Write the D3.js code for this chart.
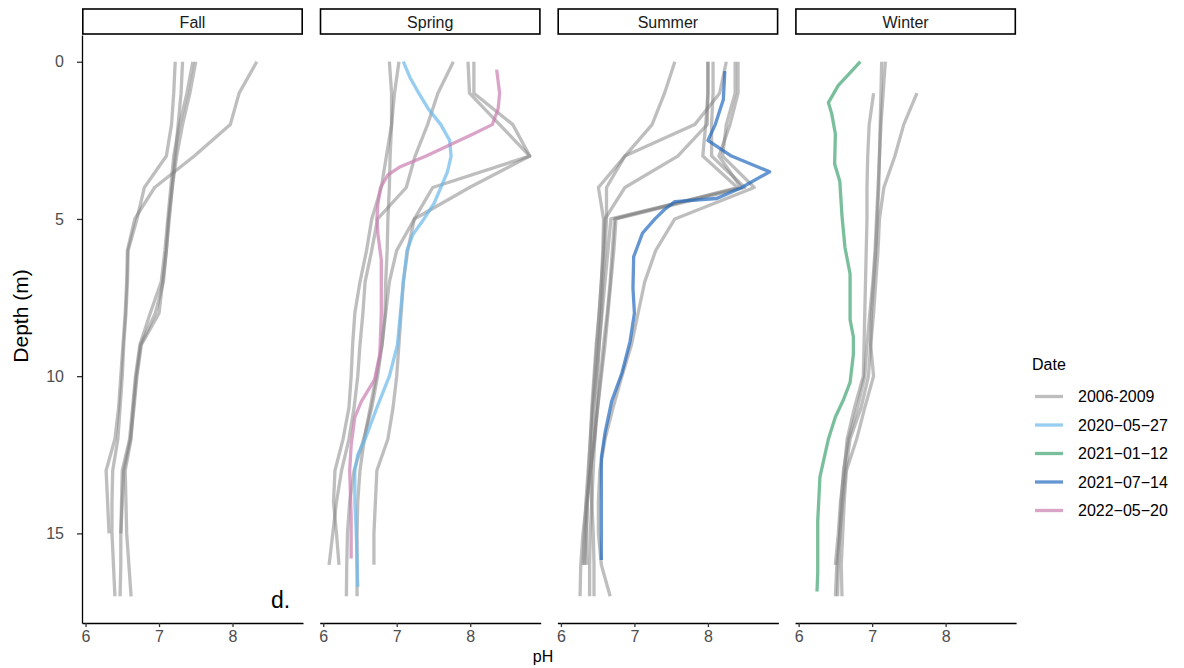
<!DOCTYPE html>
<html>
<head>
<meta charset="utf-8">
<script src="https://cdn.jsdelivr.net/npm/d3@7"></script>
<style>
  body { margin: 0; background: #fff; }
  text { font-family: "Liberation Sans", Arial, Helvetica, sans-serif; }
</style>
</head>
<body>
<svg id="chart" width="1184" height="668"></svg>
<script>
// ---- data -------------------------------------------------------------
const seasons = ["Fall", "Spring", "Summer", "Winter"];
const dateLabels = ["2006-2009", "2020\u221205\u221227", "2021\u221201\u221212", "2021\u221207\u221214", "2022\u221205\u221220"];
const dateColors = ["#7d7d7d", "#69b8ea", "#40a472", "#2269bf", "#ca7eb0"];
const xTicks = [6, 7, 8];
const yTicks = [0, 5, 10, 15];

// 2006-2009 profiles: pH at 1 m steps, index = depth (m); null = not sampled
const fallHistoric = [
  [8.33, 8.09, 7.97, 7.48, 6.94, 6.67, 6.57, 6.56, 6.54, 6.51, 6.48, 6.45, 6.40, 6.28, 6.30, 6.32],
  [7.22, 7.20, 7.17, 7.10, 6.80, 6.70, 6.58, 6.57, 6.55, 6.52, 6.50, 6.47, 6.44, 6.37, 6.36, 6.36, 6.38, 6.40],
  [7.32, 7.30, 7.26, 7.22, 7.18, 7.14, 7.10, 7.05, 7.00, 6.76, 6.70, 6.66, 6.61, 6.52, 6.50, 6.48, 6.48, 6.47],
  [7.46, 7.38, 7.28, 7.20, 7.16, 7.12, 7.08, 7.03, 6.88, 6.74, 6.68, 6.64, 6.60, 6.50, 6.49, 6.48],
  [7.50, 7.42, 7.32, 7.24, 7.18, 7.13, 7.10, 7.06, 6.95, 6.75, 6.69, 6.65, 6.62, 6.54, 6.55, 6.56, 6.59, 6.62]
];
const springHistoric = [
  [6.90, 6.93, 6.93, 6.91, 6.90, 6.88, 6.87, 6.85, 6.84, 6.80, 6.72, 6.64, 6.56, 6.50, 6.47, 6.46, 6.46, 6.46],
  [7.03, 6.97, 6.93, 6.86, 6.79, 6.66, 6.59, 6.50, 6.43, 6.40, 6.38, 6.35, 6.27, 6.16, 6.14, 6.18, 6.215],
  [7.77, 7.56, 7.42, 7.25, 7.13, 6.74, 6.66, 6.57, 6.54, 6.50, 6.47, 6.42, 6.35, 6.25, 6.18, 6.13, 6.08],
  [7.97, 7.99, 8.40, 8.81, 7.49, 7.24, 7.15, 7.09, 7.06, 7.03, 7.00, 6.95, 6.88, 6.73, 6.71, 6.69, 6.69],
  [8.05, 8.05, 8.58, 8.81, 7.99, 7.24, 7.00, 6.90, 6.85, 6.80, 6.74, 6.66, 6.55, 6.42, 6.36, 6.33, 6.32, 6.315]
];
const summerHistoric = [
  [7.55, 7.41, 7.24, 6.87, 6.51, 6.58, 6.57, 6.55, 6.52, 6.48, 6.45, 6.42, 6.40, 6.38, 6.36, 6.35, 6.35],
  [8.25, 8.16, 7.82, 6.87, 6.62, 6.62, 6.60, 6.57, 6.55, 6.52, 6.50, 6.48, 6.46, 6.44, 6.42, 6.40, 6.39, 6.39],
  [8.00, 8.00, 7.97, 7.93, 8.40, 6.73, 6.70, 6.67, 6.63, 6.58, 6.54, 6.50, 6.46, 6.40, 6.35, 6.30, 6.27, 6.26],
  [8.07, 8.07, 8.05, 8.05, 8.50, 6.75, 6.72, 6.68, 6.64, 6.60, 6.55, 6.50, 6.45, 6.40, 6.36, 6.34, 6.32],
  [8.37, 8.37, 8.25, 8.20, 8.63, 7.55, 7.29, 7.14, 7.05, 6.96, 6.83, 6.71, 6.60, 6.53, 6.51, 6.51, 6.55, 6.67],
  [8.41, 8.41, 8.30, 8.15, 8.45, 6.68, 6.64, 6.60, 6.56, 6.52, 6.48, 6.44, 6.42, 6.41, 6.42, 6.44, 6.45, 6.45],
  [8.00, 8.00, 7.99, 7.59, 6.87, 6.60, 6.58, 6.55, 6.52, 6.49, 6.46, 6.43, 6.40, 6.37, 6.34, 6.32, 6.30]
];
const winterHistoric = [
  [null, 7.61, 7.43, 7.31, 7.16, 7.10, 7.08, 7.05, 7.02, 6.98, 6.95, 6.85, 6.70, 6.64, 6.60, 6.56, 6.52, 6.50],
  [null, 7.02, 6.96, 6.94, 6.93, 6.93, 6.92, 6.91, 6.90, 6.89, 6.88, 6.76, 6.66, 6.62, 6.57, 6.54, 6.50],
  [7.13, 7.12, 7.11, 7.10, 7.09, 7.07, 7.05, 7.02, 6.99, 6.98, 7.02, 6.90, 6.79, 6.65, 6.62, 6.60, 6.58, 6.59],
  [7.18, 7.15, 7.12, 7.10, 7.08, 7.06, 7.04, 7.01, 6.97, 6.93, 6.90, 6.80, 6.68, 6.61, 6.58, 6.56, 6.54, 6.53]
];

// recent high-resolution casts: depth (m) and pH
const spring2020Depth = [0, 0.5, 1, 1.5, 2, 2.5, 3, 3.5, 4, 4.5, 5, 5.5, 6, 7, 8, 9, 10, 11, 12, 12.5, 13, 14, 15, 16.7];
const spring2020PH    = [7.09, 7.18, 7.30, 7.43, 7.60, 7.72, 7.74, 7.69, 7.60, 7.51, 7.37, 7.22, 7.14, 7.09, 7.05, 7.01, 6.90, 6.73, 6.57, 6.47, 6.43, 6.43, 6.45, 6.47];
const winter2021Depth = [0, 0.4, 0.75, 1.3, 1.65, 2.3, 3.25, 3.8, 4.9, 5.9, 6.75, 8.2, 8.75, 9.3, 10.2, 10.75, 11.3, 12, 13.2, 14.6, 16.25, 16.85];
const winter2021PH    = [6.84, 6.68, 6.54, 6.405, 6.45, 6.50, 6.49, 6.56, 6.59, 6.63, 6.70, 6.70, 6.745, 6.745, 6.70, 6.61, 6.50, 6.405, 6.29, 6.26, 6.26, 6.25];
const summer2021Depth = [0.3, 1.2, 2, 2.5, 3, 3.5, 4, 4.35, 4.45, 4.7, 5, 5.45, 6.2, 7.2, 8, 8.9, 9.9, 10.8, 11.8, 12.6, 14.2, 15.85];
const summer2021PH    = [8.23, 8.21, 8.10, 8.00, 8.32, 8.84, 8.46, 8.12, 7.55, 7.41, 7.28, 7.11, 6.99, 6.98, 7.00, 6.94, 6.83, 6.69, 6.60, 6.55, 6.55, 6.55];
const spring2022Depth = [0.25, 1, 1.5, 2, 2.3, 2.65, 3, 3.35, 3.6, 4, 4.5, 5, 5.5, 6.3, 8, 9.3, 10.1, 10.45, 10.8, 11.3, 12.2, 13, 14.5, 15.8];
const spring2022PH    = [8.36, 8.40, 8.38, 8.30, 8.04, 7.72, 7.40, 7.04, 6.88, 6.78, 6.745, 6.73, 6.745, 6.79, 6.79, 6.77, 6.70, 6.61, 6.52, 6.43, 6.38, 6.36, 6.38, 6.38];

// ---- layout -----------------------------------------------------------
const svg = d3.select("#chart");
const panelW = 221, panelStep = 237.7, firstLeft = 82;
const panelTop = 35, panelBottom = 623;
const stripTop = 9;
const fontStack = "'Liberation Sans', Arial, sans-serif";

const y = d3.scaleLinear().domain([-0.85, 17.85]).range([panelTop, panelBottom]);
const xFor = i => d3.scaleLinear().domain([5.952, 8.959])
  .range([firstLeft + i * panelStep, firstLeft + i * panelStep + panelW]);

const historicBySeason = [fallHistoric, springHistoric, summerHistoric, winterHistoric];
const recent = [
  { season: 1, date: 1, depth: spring2020Depth, ph: spring2020PH },
  { season: 3, date: 2, depth: winter2021Depth, ph: winter2021PH },
  { season: 2, date: 3, depth: summer2021Depth, ph: summer2021PH },
  { season: 1, date: 4, depth: spring2022Depth, ph: spring2022PH }
];
const lineOpacity = [0.5, 0.7, 0.7, 0.7, 0.7];
const lineWidth = 3.3;

seasons.forEach((name, i) => {
  const x = xFor(i);
  const left = x.range()[0];
  const g = svg.append("g");

  const line = d3.line()
    .defined(d => d[1] != null)
    .x(d => x(d[1]))
    .y(d => y(d[0]));

  // historic profiles in grey
  historicBySeason[i].forEach(prof => {
    g.append("path")
      .attr("d", line(prof.map((v, k) => [k, v])))
      .attr("fill", "none")
      .attr("stroke", dateColors[0])
      .attr("stroke-opacity", lineOpacity[0])
      .attr("stroke-width", lineWidth)
      .attr("stroke-linejoin", "round")
      .attr("stroke-linecap", "butt");
  });

  // recent casts on top
  recent.filter(r => r.season === i).forEach(r => {
    g.append("path")
      .attr("d", line(r.depth.map((dv, k) => [dv, r.ph[k]])))
      .attr("fill", "none")
      .attr("stroke", dateColors[r.date])
      .attr("stroke-opacity", lineOpacity[r.date])
      .attr("stroke-width", lineWidth)
      .attr("stroke-linejoin", "round")
      .attr("stroke-linecap", "butt");
  });

  // bottom axis
  const ax = svg.append("g")
    .attr("transform", `translate(0,${panelBottom})`)
    .call(d3.axisBottom(x).tickValues(xTicks).tickFormat(d3.format("d"))
      .tickSize(4).tickSizeOuter(0).tickPadding(4));
  ax.select(".domain").attr("stroke", "#000").attr("stroke-width", 1.3);
  ax.selectAll(".tick line").attr("stroke", "#333").attr("stroke-width", 1.3);
  ax.selectAll(".tick text").attr("fill", "#4d4d4d").style("font-size", "16px")
    .style("font-family", fontStack);

  // facet strip
  svg.append("rect")
    .attr("x", left + 0.8).attr("y", stripTop)
    .attr("width", panelW - 1.6).attr("height", panelTop - stripTop - 1)
    .attr("fill", "#fff").attr("stroke", "#000").attr("stroke-width", 1.6);
  svg.append("text")
    .attr("x", left + panelW / 2).attr("y", 27.5)
    .attr("text-anchor", "middle")
    .style("font-size", "16px").attr("fill", "#1a1a1a")
    .text(name);
});

// left axis
const yAx = svg.append("g")
  .attr("transform", `translate(${firstLeft},0)`)
  .call(d3.axisLeft(y).tickValues(yTicks).tickFormat(d3.format("d"))
    .tickSize(5).tickSizeOuter(0).tickPadding(13));
yAx.select(".domain").attr("stroke", "#000").attr("stroke-width", 1.3);
yAx.selectAll(".tick line").attr("stroke", "#333").attr("stroke-width", 1.3);
yAx.selectAll(".tick text").attr("fill", "#4d4d4d").style("font-size", "16px")
  .style("font-family", fontStack);

// axis titles
svg.append("text")
  .attr("x", 543).attr("y", 662)
  .attr("text-anchor", "middle")
  .style("font-size", "16px").attr("fill", "#000")
  .text("pH");
svg.append("text")
  .attr("transform", "translate(28,316) rotate(-90)")
  .attr("text-anchor", "middle")
  .style("font-size", "21px").attr("fill", "#000")
  .text("Depth (m)");

// panel tag
svg.append("text")
  .attr("x", 271).attr("y", 608)
  .style("font-size", "23px").attr("fill", "#000")
  .text("d.");

// legend
const legend = svg.append("g");
legend.append("text")
  .attr("x", 1032).attr("y", 370)
  .style("font-size", "16px").attr("fill", "#000")
  .text("Date");
dateLabels.forEach((lab, k) => {
  const cy = 396.5 + k * 28.5;
  legend.append("line")
    .attr("x1", 1035).attr("x2", 1063).attr("y1", cy).attr("y2", cy)
    .attr("stroke", dateColors[k]).attr("stroke-opacity", lineOpacity[k])
    .attr("stroke-width", 3.3);
  legend.append("text")
    .attr("x", 1078).attr("y", cy + 5.5)
    .style("font-size", "16px").attr("fill", "#000")
    .text(lab);
});
</script>
</body>
</html>
